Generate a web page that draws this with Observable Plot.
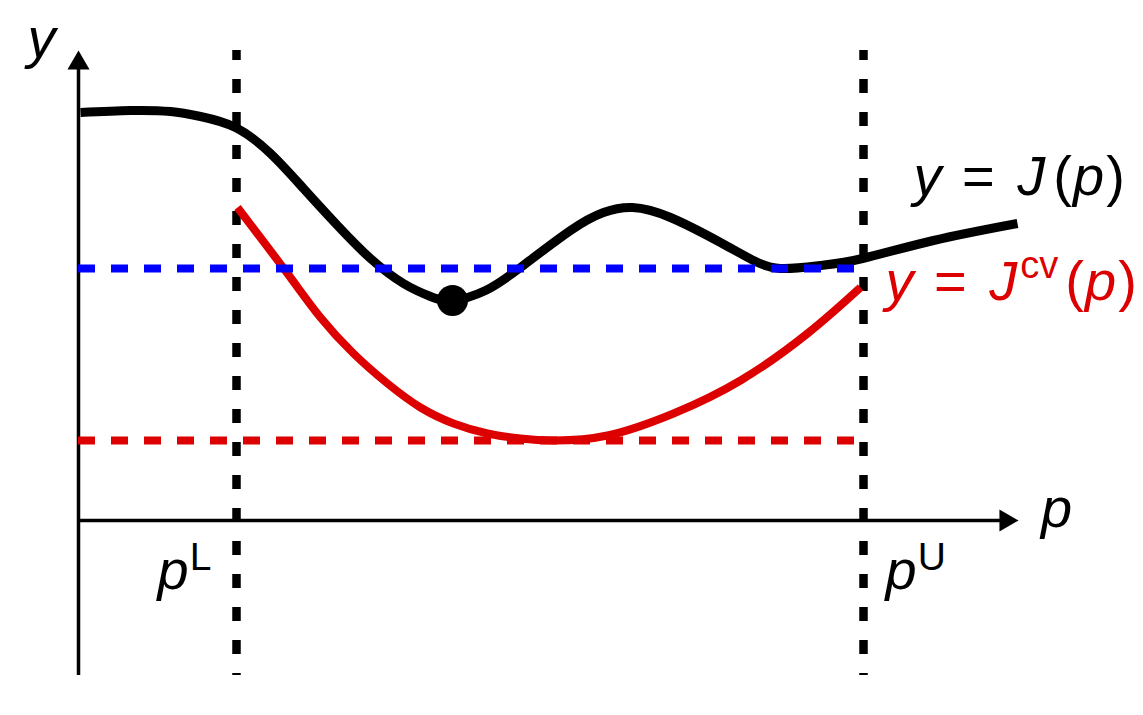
<!DOCTYPE html>
<html><head><meta charset="utf-8">
<script src="https://cdn.jsdelivr.net/npm/d3@7"></script>
<script src="https://cdn.jsdelivr.net/npm/@observablehq/plot@0.6"></script>
<style>
body{margin:0;background:#fff;}
svg{font-family:"Liberation Sans", Arial, sans-serif;}
</style>
</head><body><div id="chart"></div>
<script>
// Black curve y = J(p)
const pJ = [0.02,0.52,0.92,1.22,1.57,1.92,2.25,2.59,2.92,3.25,3.52,3.74,4.07,4.42,4.92,5.25,5.54,5.92,6.42,6.75,7.02,7.42,7.84,8.55,9.39];
const yJ = [8.16,8.2,8.18,8.08,7.86,7.34,6.64,5.9,5.24,4.74,4.48,4.4,4.6,5.06,5.8,6.16,6.26,6.06,5.56,5.2,5.04,5.1,5.24,5.6,5.94];
// Red convex underestimator y = Jcv(p)
const pCV = [1.59,2.09,2.42,2.75,3.09,3.42,3.75,4.09,4.42,4.75,5.29,5.95,6.62,7.29,7.82];
const yCV = [6.26,4.94,4.06,3.34,2.74,2.26,1.94,1.74,1.64,1.6,1.7,2.14,2.8,3.74,4.66];
// bounds pL, pU
const bounds = [1.58, 7.85];
// horizontal levels: upper bound (blue), lower bound (red)
const levels = [{y: 5.04, color: "#0000ff"}, {y: 1.6, color: "#dd0000"}];
const levelEnd = 7.8;
// minimum point
const minPoint = [{p: 3.74, y: 4.4}];
// axis extents
const xAxisEnd = 9.4, yAxisEnd = 9.4, yAxisBottom = -3.1;
// labels
const axisLabels = [{p: -0.37, y: 9.62, text: "y"}, {p: 9.78, y: 0.22, text: "p"}];
const boundLabels = [{p: 0.79, y: -1.02, base: "p", sup: "L"}, {p: 8.07, y: -1.02, base: "p", sup: "U"}];
const curveLabels = [{p: 8.35, y: 6.86, name: "J", sup: "", color: "black"}, {p: 8.07, y: 4.76, name: "J", sup: "cv", color: "#dd0000"}];

const J = pJ.map((p, i) => ({p, y: yJ[i]}));
const CV = pCV.map((p, i) => ({p, y: yCV[i]}));

const svg = Plot.plot({
  width: 1143, height: 715,
  marginLeft: 0, marginRight: 0, marginTop: 0, marginBottom: 0,
  x: {domain: [0, 10], range: [78, 1078], axis: null},
  y: {domain: [0, 10], range: [520, 20], axis: null},
  style: {background: "#fff", fontFamily: "Liberation Sans, Arial, sans-serif"},
  marks: [
    // axes
    Plot.ruleY([0], {x1: 0, x2: xAxisEnd - 0.12, stroke: "black", strokeWidth: 3.5}),
    Plot.ruleX([0], {y1: yAxisBottom, y2: yAxisEnd - 0.25, stroke: "black", strokeWidth: 3.5}),
    Plot.dot([{p: xAxisEnd, y: 0}], {x: "p", y: "y", symbol: "triangle", r: 8.2, rotate: 90, fill: "black", dx: -12.7}),
    Plot.dot([{p: 0, y: yAxisEnd}], {x: "p", y: "y", symbol: "triangle", r: 8.2, rotate: 0, fill: "black", dy: 12.7}),
    // vertical bounds
    Plot.ruleX(bounds, {y1: yAxisEnd, y2: yAxisBottom, stroke: "black", strokeWidth: 8.5, strokeDasharray: "14 19", strokeDashoffset: 4}),
    // curves
    Plot.line(J, {x: "p", y: "y", curve: "natural", stroke: "black", strokeWidth: 9, strokeLinecap: "butt"}),
    Plot.line(CV, {x: "p", y: "y", curve: "natural", stroke: "#dd0000", strokeWidth: 8, strokeLinecap: "butt"}),
    // levels
    Plot.ruleY(levels, {y: "y", x1: 0, x2: levelEnd, stroke: "color", strokeWidth: 8, strokeDasharray: "17 16"}),
    // minimum point
    Plot.dot(minPoint, {x: "p", y: "y", r: 15.5, fill: "black"}),
    // labels
    Plot.text(axisLabels, {x: "p", y: "y", text: "text", fontSize: 56, fontStyle: "italic", fill: "black"}),
    Plot.text(boundLabels, {x: "p", y: "y", text: d => "@B" + d.sup, fontSize: 56, textAnchor: "start", fill: "black"}),
    Plot.text(curveLabels, {x: "p", y: "y", text: d => "@C" + d.sup, fontSize: 56, textAnchor: "start", fill: d => d.color})
  ]
});

const S = d3.select(svg);
S.selectAll("text").each(function() {
  const t = d3.select(this);
  const key = t.text();
  if (key.startsWith("@B")) {
    const d = boundLabels.find(b => "@B" + b.sup === key);
    t.text(null);
    t.append("tspan").attr("font-style", "italic").text(d.base);
    t.append("tspan").attr("font-size", 39).attr("dy", -19).attr("dx", 1).text(d.sup);
  } else if (key.startsWith("@C")) {
    const d = curveLabels.find(b => "@C" + b.sup === key);
    t.text(null).style("white-space", "pre");
    t.append("tspan").attr("font-style", "italic").text("y");
    t.append("tspan").attr("dx", 5).attr("transform", null).text(" = ");
    t.append("tspan").attr("font-style", "italic").attr("dx", 7).text(d.name);
    if (d.sup) {
      t.append("tspan").attr("font-size", 38).attr("dy", -22).attr("dx", 3).text(d.sup);
      t.append("tspan").attr("dy", 22).attr("dx", 7).text("(");
    } else {
      t.append("tspan").attr("dx", 8).text("(");
    }
    t.append("tspan").attr("font-style", "italic").attr("dx", 1).text("p");
    t.append("tspan").attr("dx", 2).text(")");
  }
});

document.getElementById("chart").appendChild(svg);
</script>
</body></html>
